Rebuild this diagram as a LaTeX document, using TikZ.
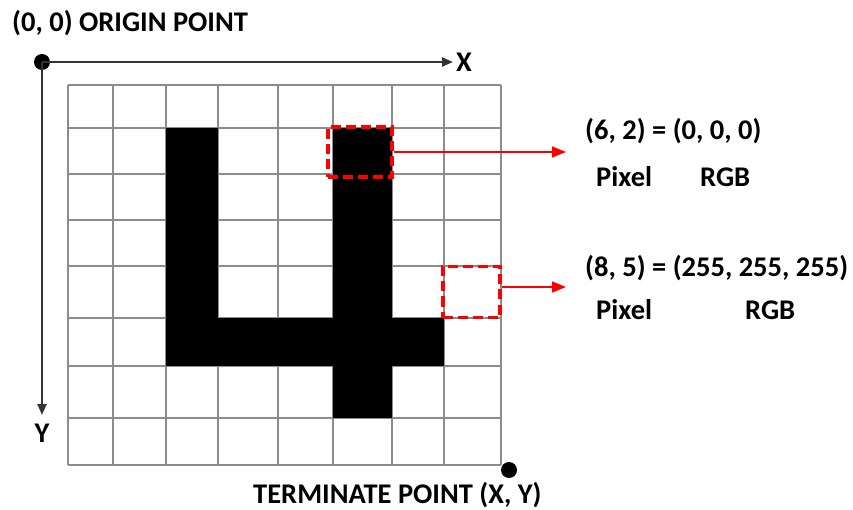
\documentclass[tikz,border=0pt]{standalone}
\usepackage{fontspec}
\setmainfont{Carlito}
\usetikzlibrary{arrows.meta,positioning}
\definecolor{ink}{HTML}{000000}
\definecolor{axis}{HTML}{333333}
\definecolor{gridline}{HTML}{8C8C8C}
\definecolor{mark}{HTML}{FF0000}

\begin{document}
\begin{tikzpicture}[
  x=1pt, y=-1pt,
  lbl/.style={font=\fontsize{28.5}{33}\selectfont\bfseries, text=ink, inner sep=0pt, anchor=west},
  axisline/.style={-{Triangle[length=11pt, width=9pt]}, line width=2.2pt, draw=axis},
  dot/.style={circle, fill=ink, inner sep=0pt, minimum size=16pt},
  pick/.style={draw=mark, line width=3.4pt, dash pattern=on 10pt off 5pt, inner sep=0pt},
  pointer/.style={-{Triangle[length=14pt, width=11pt]}, line width=1.6pt, draw=mark}
]
\useasboundingbox (0,0) rectangle (853,510);

% ---------- Raster ----------
\foreach \x in {68,113,166,218,278,333,392,444,501}
  \draw[gridline, line width=1.8pt] (\x,85) -- (\x,465);
\foreach \y in {85,128,174,220,266,318,366,418,465}
  \draw[gridline, line width=1.8pt] (68,\y) -- (501,\y);

% the digit
\fill[ink] (166,128) rectangle (218,366);
\fill[ink] (166,318) rectangle (444,366);
\fill[ink] (333,128) rectangle (392,418);

% ---------- Achsen ----------
\node[dot] (origin) at (42,62) {};
\coordinate (xend) at (453,62);
\coordinate (yend) at (42,415);
\draw[axisline] (origin.center) -- (xend);
\draw[axisline] (origin.center) -- (yend);
\node[lbl] (xlbl) at (456,62) {X};
\node[lbl, anchor=center] (ylbl) at (42,433) {Y};
\node[lbl] (originlbl) at (12,23) {(0, 0) ORIGIN POINT};

\node[dot] (term) at (509,470) {};
\node[lbl] (termlbl) at (253,495) {TERMINATE POINT (X, Y)};

% ---------- Markierte Pixel ----------
\node[pick, minimum width=64pt, minimum height=50pt] (pxa) at (360,152) {};
\node[pick, minimum width=57pt, minimum height=51pt] (pxb) at (471.5,292) {};

\node[lbl] (vala) at (585,131) {(6, 2) = (0, 0, 0)};
\node[lbl] (pixa) at (596,177) {Pixel};
\node[lbl] (rgba) at (700,177) {RGB};
\node[lbl] (valb) at (585,268) {(8, 5) = (255, 255, 255)};
\node[lbl] (pixb) at (596,310) {Pixel};
\node[lbl] (rgbb) at (745,310) {RGB};

\coordinate (tipa) at (566,152);
\coordinate (tipb) at (566,287);
\draw[pointer] (pxa.east) -- (tipa);
\draw[pointer] (pxb.east |- tipb) -- (tipb);

\end{tikzpicture}
\end{document}
